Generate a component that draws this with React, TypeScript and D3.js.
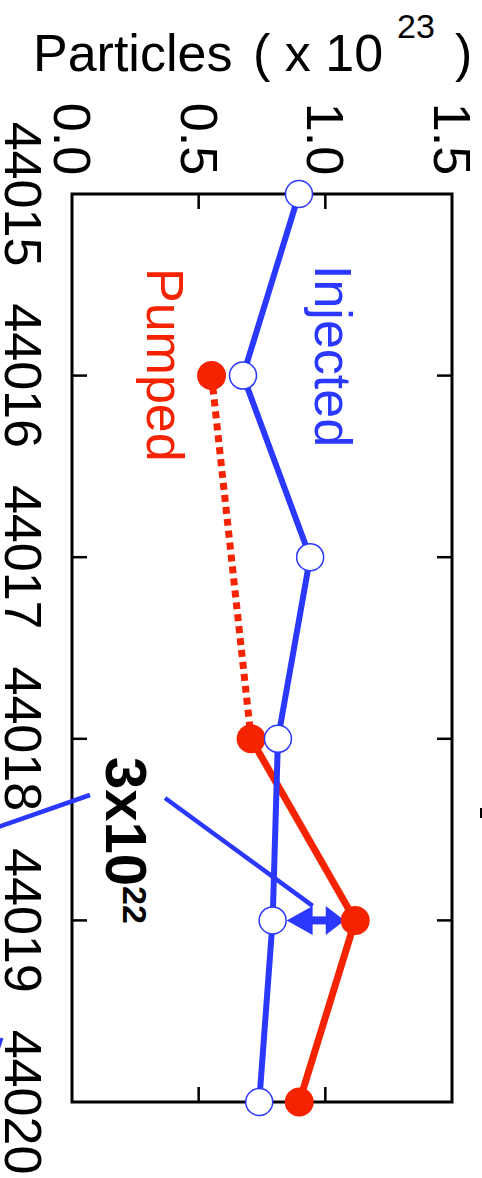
import React from "react";
import * as d3 from "d3";

// Shot numbers along the (vertical) shot axis
const shots = [44015, 44016, 44017, 44018, 44019, 44020];
const shotLabels = ["44015", "44016", "44017", "44018", "44019", "44020"];

// Particle inventory, units of 10^23
const injected = [0.896, 0.675, 0.94, 0.813, 0.792, 0.739];
const pumpedShots = [44016, 44018, 44019, 44020];
const pumped = [0.551, 0.707, 1.118, 0.897];

const valueTicks = [0, 0.5, 1.0, 1.5];
const valueTickLabels = ["0.0", "0.5", "1.0", "1.5"];

const BLUE = "#2b38ff";
const RED = "#f52300";
const FONT = "'Liberation Sans', Arial, Helvetica, sans-serif";

const W = 482;
const H = 1178;
const frame = { left: 72, right: 452, top: 194, bottom: 1102 };

export default function App() {
  const xV = d3.scaleLinear().domain([0, 1.5]).range([frame.left, frame.right]);
  const yS = d3.scaleLinear().domain([44015, 44020]).range([frame.top, frame.bottom]);

  const injPts: [number, number][] = shots.map((s, i) => [xV(injected[i]), yS(s)]);
  const pumpPts: [number, number][] = pumpedShots.map((s, i) => [xV(pumped[i]), yS(s)]);
  const line = d3.line<[number, number]>();

  const rInj = 13.5;
  const rPump = 14.5;
  const tickLen = 15;

  // Double-headed arrow between injected and pumped at shot 44019
  const iArrow = shots.indexOf(44019);
  const pArrow = pumpedShots.indexOf(44019);
  const ay = yS(44019);
  const ax1 = xV(injected[iArrow]) + rInj + 0.5;
  const ax2 = xV(pumped[pArrow]) - rPump + 4;
  const headL = 26;
  const headR = 19;
  const headHalf = 14.5;

  const rotText = (px: number, py: number) => `translate(${px},${py}) rotate(90)`;

  return (
    <svg
      width={W}
      height={H}
      style={{ position: "absolute", left: 0, top: 0, background: "#fff" }}
      fontFamily={FONT}
    >
      <rect x={0} y={0} width={W} height={H} fill="#fff" />

      {/* Title */}
      <text fontSize={52} fill="#000">
        <tspan x={33} y={71}>Particles</tspan>
        <tspan x={253} y={71}>( x 10</tspan>
        <tspan x={397} y={38} fontSize={34}>23</tspan>
        <tspan x={455} y={71}>)</tspan>
      </text>

      {/* Value axis labels (rotated) */}
      {valueTicks.map((v, i) => (
        <text
          key={"vt" + i}
          transform={rotText(xV(v) - 18, 139)}
          textAnchor="middle"
          fontSize={52}
          fill="#000"
        >
          {valueTickLabels[i]}
        </text>
      ))}

      {/* Shot axis labels (rotated) */}
      {shots.map((s, i) => (
        <text
          key={"st" + i}
          transform={rotText(5, yS(s))}
          textAnchor="middle"
          fontSize={52}
          fill="#000"
        >
          {shotLabels[i]}
        </text>
      ))}

      {/* Frame */}
      <rect
        x={frame.left}
        y={frame.top}
        width={frame.right - frame.left}
        height={frame.bottom - frame.top}
        fill="none"
        stroke="#000"
        strokeWidth={3}
      />
      {valueTicks.slice(1, -1).map((v, i) => (
        <g key={"vtk" + i} stroke="#000" strokeWidth={2.5}>
          <line x1={xV(v)} x2={xV(v)} y1={frame.top} y2={frame.top + tickLen} />
          <line x1={xV(v)} x2={xV(v)} y1={frame.bottom} y2={frame.bottom - tickLen} />
        </g>
      ))}
      {shots.slice(1, -1).map((s, i) => (
        <g key={"stk" + i} stroke="#000" strokeWidth={2.5}>
          <line x1={frame.left} x2={frame.left + tickLen} y1={yS(s)} y2={yS(s)} />
          <line x1={frame.right} x2={frame.right - tickLen} y1={yS(s)} y2={yS(s)} />
        </g>
      ))}

      {/* Series labels */}
      <text transform={rotText(315, 265)} fontSize={52} fill={BLUE}>
        Injected
      </text>
      <text transform={rotText(147, 268)} fontSize={52} fill={RED}>
        Pumped
      </text>

      {/* Pumped: dotted across the missing shot, solid afterwards */}
      <path
        d={line(pumpPts.slice(0, 2)) || ""}
        fill="none"
        stroke={RED}
        strokeWidth={7}
        strokeDasharray="7 5"
      />
      <path
        d={line(pumpPts.slice(1)) || ""}
        fill="none"
        stroke={RED}
        strokeWidth={7}
        strokeLinejoin="round"
      />

      {/* Injected line */}
      <path
        d={line(injPts) || ""}
        fill="none"
        stroke={BLUE}
        strokeWidth={6}
        strokeLinejoin="round"
      />

      {/* Annotation leader lines */}
      <line x1={90} y1={795} x2={-5} y2={828} stroke={BLUE} strokeWidth={4.5} />
      <line x1={165} y1={798} x2={ax1 + headL} y2={ay - headHalf} stroke={BLUE} strokeWidth={4.5} />
      <line x1={-2} y1={1050} x2={2} y2={1038} stroke={BLUE} strokeWidth={3} />

      {/* Small mark at right edge */}
      <line x1={481} y1={808} x2={481} y2={818} stroke="#000" strokeWidth={2} />

      {/* Double-headed arrow */}
      <g fill={BLUE}>
        <rect x={ax1 + headL - 1} y={ay - 4} width={ax2 - headR - (ax1 + headL) + 2} height={8} />
        <path
          d={`M${ax1},${ay} L${ax1 + headL},${ay - headHalf} L${ax1 + headL},${ay + headHalf} Z`}
        />
        <path
          d={`M${ax2},${ay} L${ax2 - headR},${ay - headHalf} L${ax2 - headR},${ay + headHalf} Z`}
        />
      </g>

      {/* Markers */}
      {pumpPts.map((p, i) => (
        <circle key={"pm" + i} cx={p[0]} cy={p[1]} r={rPump} fill={RED} />
      ))}
      {injPts.map((p, i) => (
        <circle
          key={"im" + i}
          cx={p[0]}
          cy={p[1]}
          r={rInj}
          fill="#fff"
          stroke={BLUE}
          strokeWidth={1.5}
        />
      ))}

      {/* Difference annotation */}
      <text transform={rotText(106, 757)} fontSize={58} fontWeight="bold" fill="#000">
        3x10
        <tspan dy={-17} fontSize={34}>22</tspan>
      </text>
    </svg>
  );
}
